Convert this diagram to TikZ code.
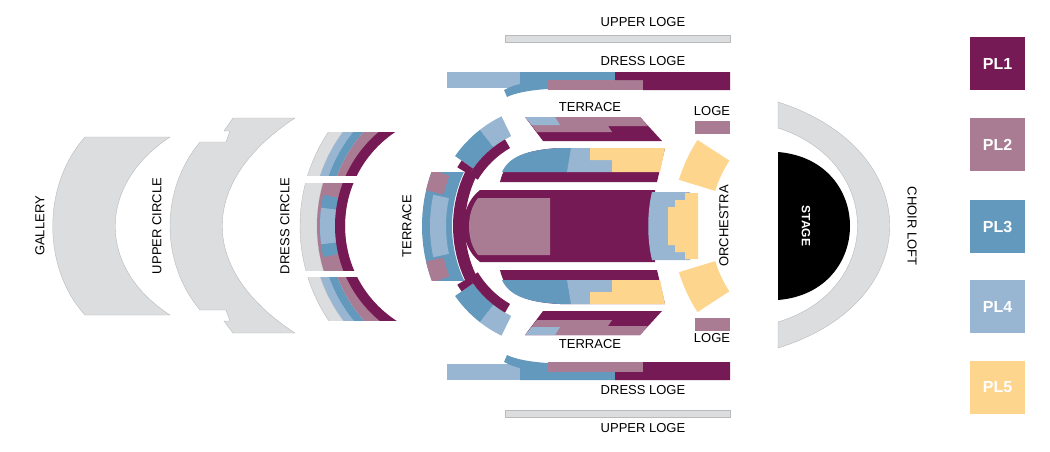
\documentclass[tikz,border=0pt]{standalone}
\usepackage{fontspec}
\setmainfont{Liberation Sans}
\usetikzlibrary{calc}
\definecolor{cA}{HTML}{761A55}
\definecolor{cB}{HTML}{A97C93}
\definecolor{cC}{HTML}{6399BD}
\definecolor{cD}{HTML}{98B6D2}
\definecolor{cE}{HTML}{FDD58C}
\definecolor{gf}{HTML}{DCDDDF}
\definecolor{gs}{HTML}{B9BABC}
\newcommand\sect[6]{\fill[#1] ($(#2)+(#3:#6pt)$) arc[start angle=#3,end angle=#4,radius=#6pt] -- ($(#2)+(#4:#5pt)$) arc[start angle=#4,end angle=#3,radius=#5pt] -- cycle;}
\newcommand\halfplan{%
 \fill[gf,draw=gs] (505,-35) rectangle (730,-42);
 \fill[cD] (447,-72) rectangle (525,-88);
 \fill[cC] (520,-72)--(615,-72)--(615,-80)--(548,-80)--(548,-89) .. controls (530,-90) and (515,-93) .. (507,-97) -- (504,-90) .. controls (510,-87) and (515,-85) .. (520,-84) -- cycle;
 \fill[cB] (548,-80) rectangle (643,-90);
 \fill[cA] (615,-72)--(730,-72)--(730,-90)--(643,-90)--(643,-80)--(615,-80)--cycle;
 \fill[cA] (525,-117)--(640,-117)--(662,-141)--(543,-141)--cycle;
 \fill[cB] (525,-117)--(640,-117)--(648,-126)--(608,-126)--(612,-132)--(537,-132)--cycle;
 \fill[cD] (525,-117)--(555,-117)--(560,-125)--(532,-125)--cycle;
 \fill[cB] (695,-121) rectangle (730,-134);
 \fill[cA] (500,-182) .. controls (505,-160) and (520,-150) .. (560,-148) -- (665,-148) -- (657,-182) -- cycle;
 \fill[cC] (502,-172) .. controls (509,-157) and (525,-150) .. (560,-148) -- (572,-148) -- (568,-172) -- cycle;
 \fill[cD] (571,-148)--(590,-148)--(590,-160)--(612,-160)--(612,-172)--(567,-172)--cycle;
 \fill[cE] (590,-148)--(665,-148)--(660,-172)--(612,-172)--(612,-160)--(590,-160)--cycle;
 \sect{cE}{C4}{147}{163}{120}{158}
 \begin{scope}
  \clip (290,-132) rectangle (420,-175);
  \sect{gf,draw=gs}{C1}{90}{180}{158}{170}
  \sect{cD}{C1}{90}{180}{150}{158}
  \sect{cC}{C1}{90}{180}{142}{150}
  \sect{cB}{C1}{90}{180}{125}{142}
  \sect{cA}{C1p}{90}{180}{113}{123}
 \end{scope}
 \sect{cD}{C3}{116}{128}{100}{122}
 \sect{cC}{C3}{128}{145}{100}{122}
 \sect{cA}{C3}{120}{149}{90}{100}
 \sect{cA}{C3}{145}{149}{100}{114}
}
\begin{document}
\begin{tikzpicture}[x=1pt,y=1pt,
  lab/.style={font=\fontsize{13}{15}\selectfont,inner sep=0pt},
  pl/.style={font=\fontsize{16}{18}\selectfont\bfseries,text=white}]
\useasboundingbox (0,-451) rectangle (1050,0);
\coordinate (C1) at (470,-226);
\coordinate (C1p) at (458,-226);
\coordinate (C2) at (580,-226);
\coordinate (C3) at (555,-226);
\coordinate (C4) at (830,-226);
% gallery
\fill[gf,draw=gs] (85,-137) .. controls (42,-185) and (42,-268) .. (85,-315) -- (170,-315) .. controls (97,-268) and (97,-185) .. (170,-137) -- cycle;
% upper circle
\fill[gf,draw=gs] (200,-142) .. controls (160,-190) and (160,-262) .. (200,-310) -- (226,-310) -- (230,-321) -- (224,-321) -- (233,-333) -- (295,-333) .. controls (198,-270) and (198,-182) .. (295,-118) -- (233,-118) -- (224,-131) -- (230,-131) -- (226,-142) -- cycle;
% choir loft and stage
\fill[gf,draw=gs] (778,-102) .. controls (927,-150) and (927,-302) .. (778,-348) -- (778,-322) .. controls (884,-290) and (884,-162) .. (778,-128) -- cycle;
\fill[black] (778,-152) .. controls (874,-160) and (874,-292) .. (778,-300) -- cycle;
% mirrored halves
\halfplan
\begin{scope}[cm={1,0,0,-1,(0,-452)}]
\halfplan
\end{scope}
% dress circle middle
\begin{scope}
 \clip (290,-183) rectangle (420,-270);
 \sect{gf,draw=gs}{C1}{150}{210}{153}{170}
 \sect{cB}{C1}{150}{210}{125}{153}
 \sect{cC}{C1}{168}{192}{130}{150}
 \sect{cD}{C1}{173}{187}{130}{150}
 \sect{cA}{C1p}{150}{210}{113}{123}
\end{scope}
% terrace middle
\begin{scope}
 \clip (400,-172) rectangle (480,-280);
 \sect{cC}{C2}{140}{220}{128}{158}
 \sect{cB}{C2}{159}{167}{140}{158}
 \sect{cB}{C2}{193}{201}{140}{158}
 \sect{cD}{C2}{168}{192}{134}{150}
 \sect{cA}{C2}{140}{220}{115}{127}
\end{scope}
% orchestra centre
\fill[cA] (480,-190) -- (655,-190) -- (655,-262) -- (480,-262) .. controls (458,-245) and (458,-207) .. (480,-190) -- cycle;
\fill[cB] (478,-198) -- (550,-198) -- (550,-255) -- (478,-255) .. controls (466,-240) and (466,-213) .. (478,-198) -- cycle;
\fill[cD] (652,-192) -- (690,-192) -- (690,-260) -- (652,-260) .. controls (647,-240) and (647,-212) .. (652,-192) -- cycle;
\fill[cE] (685,-193)--(698,-193)--(698,-259)--(685,-259)--(685,-252)--(675,-252)--(675,-245)--(668,-245)--(668,-207)--(675,-207)--(675,-200)--(685,-200)--cycle;
% labels
\node[lab] (ul1) at (643,-22) {UPPER LOGE};
\node[lab] (dl1) at (643,-61) {DRESS LOGE};
\node[lab] (te1) at (590,-107) {TERRACE};
\node[lab] (lo1) at (712,-111) {LOGE};
\node[lab] (te2) at (590,-344) {TERRACE};
\node[lab] (lo2) at (712,-338) {LOGE};
\node[lab] (dl2) at (643,-390) {DRESS LOGE};
\node[lab] (ul2) at (643,-428) {UPPER LOGE};
\node[lab,rotate=90] (ga) at (40,-226) {GALLERY};
\node[lab,rotate=90] (uc) at (157,-226) {UPPER CIRCLE};
\node[lab,rotate=90] (dc) at (285,-226) {DRESS CIRCLE};
\node[lab,rotate=90] (te3) at (407,-226) {TERRACE};
\node[lab,rotate=90] (or) at (724,-226) {ORCHESTRA};
\node[lab,rotate=-90] (cl) at (912,-226) {CHOIR LOFT};
\node[lab,rotate=-90,text=white,font=\fontsize{12}{14}\selectfont\bfseries] (st) at (806,-226) {STAGE};
% legend
\foreach \c/\t/\y in {cA/PL1/37,cB/PL2/118,cC/PL3/200,cD/PL4/280,cE/PL5/361}{
  \fill[\c] (970,-\y) rectangle (1025,-\y-53);
  \node[pl] (n\t) at (997.5,-\y-26.5) {\t};
}
\end{tikzpicture}
\end{document}
